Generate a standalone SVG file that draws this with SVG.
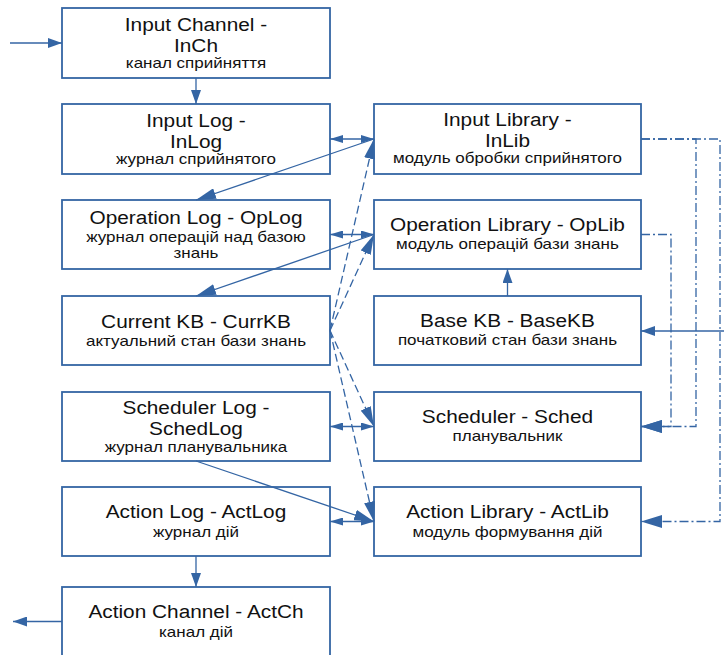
<svg xmlns="http://www.w3.org/2000/svg" width="724" height="655" viewBox="0 0 724 655">
<style>
.box{fill:#fff;stroke:#3465a4;stroke-width:1.8}
.t{font-family:"Liberation Sans",Arial,sans-serif;font-size:18.6px;fill:#111;text-anchor:middle}
.s{font-size:15.2px}
.c{fill:none;stroke:#3465a4;stroke-width:1.3}
.dash{stroke-dasharray:8 4}
.dd{stroke-dasharray:9 3 2 3}
.ah{fill:#3465a4}
</style>
<defs>
<marker id="aS" markerUnits="userSpaceOnUse" markerWidth="13" markerHeight="8" refX="13" refY="4" orient="auto-start-reverse"><path class="ah" d="M0,0 L13,4 L0,8 Z"/></marker>
<marker id="aM" markerUnits="userSpaceOnUse" markerWidth="14" markerHeight="10" refX="14" refY="5" orient="auto"><path class="ah" d="M0,0 L14,5 L0,10 Z"/></marker>
<marker id="aL" markerUnits="userSpaceOnUse" markerWidth="20" markerHeight="11" refX="20" refY="5.5" orient="auto"><path class="ah" d="M0,0 L20,5.5 L0,11 Z"/></marker>
<marker id="aD" markerUnits="userSpaceOnUse" markerWidth="21" markerHeight="13" refX="21" refY="6.5" orient="auto"><path class="ah" d="M0,0 L21,6.5 L0,13 Z"/></marker>
</defs>

<g id="InCh">
<rect class="box" x="62" y="8" width="268" height="70"/>
<g transform="scale(1.12 1)"><text class="t" x="175" y="31">Input Channel -</text><text class="t" x="175" y="52">InCh</text><text class="t s" x="175" y="68">канал сприйняття</text></g>
</g>
<g id="InLog">
<rect class="box" x="62" y="104" width="268" height="70"/>
<g transform="scale(1.12 1)"><text class="t" x="175" y="127">Input Log -</text><text class="t" x="175" y="148">InLog</text><text class="t s" x="175" y="164">журнал сприйнятого</text></g>
</g>
<g id="OpLog">
<rect class="box" x="62" y="200" width="268" height="69"/>
<g transform="scale(1.12 1)"><text class="t" x="175" y="224">Operation Log - OpLog</text><text class="t s" x="175" y="242">журнал операцій над базою</text><text class="t s" x="175" y="258">знань</text></g>
</g>
<g id="CurrKB">
<rect class="box" x="62" y="296" width="268" height="69"/>
<g transform="scale(1.12 1)"><text class="t" x="175" y="328">Current KB - CurrKB</text><text class="t s" x="175" y="346">актуальний стан бази знань</text></g>
</g>
<g id="SchedLog">
<rect class="box" x="62" y="392" width="268" height="69"/>
<g transform="scale(1.12 1)"><text class="t" x="175" y="414">Scheduler Log -</text><text class="t" x="175" y="435">SchedLog</text><text class="t s" x="175" y="452">журнал планувальника</text></g>
</g>
<g id="ActLog">
<rect class="box" x="62" y="487" width="268" height="69"/>
<g transform="scale(1.12 1)"><text class="t" x="175" y="518">Action Log - ActLog</text><text class="t s" x="175" y="537">журнал дій</text></g>
</g>
<g id="ActCh">
<rect class="box" x="62" y="587" width="268" height="69"/>
<g transform="scale(1.12 1)"><text class="t" x="175" y="618">Action Channel - ActCh</text><text class="t s" x="175" y="637">канал дій</text></g>
</g>
<g id="InLib">
<rect class="box" x="374" y="104" width="267" height="70"/>
<g transform="scale(1.12 1)"><text class="t" x="453.1" y="126">Input Library -</text><text class="t" x="453.1" y="147">InLib</text><text class="t s" x="453.1" y="163">модуль обробки сприйнятого</text></g>
</g>
<g id="OpLib">
<rect class="box" x="374" y="200" width="267" height="69"/>
<g transform="scale(1.12 1)"><text class="t" x="453.1" y="231">Operation Library - OpLib</text><text class="t s" x="453.1" y="249">модуль операцій бази знань</text></g>
</g>
<g id="BaseKB">
<rect class="box" x="374" y="296" width="267" height="69"/>
<g transform="scale(1.12 1)"><text class="t" x="453.1" y="327">Base KB - BaseKB</text><text class="t s" x="453.1" y="345">початковий стан бази знань</text></g>
</g>
<g id="Sched">
<rect class="box" x="374" y="392" width="267" height="69"/>
<g transform="scale(1.12 1)"><text class="t" x="453.1" y="423">Scheduler - Sched</text><text class="t s" x="453.1" y="441">планувальник</text></g>
</g>
<g id="ActLib">
<rect class="box" x="374" y="487" width="267" height="69"/>
<g transform="scale(1.12 1)"><text class="t" x="453.1" y="518">Action Library - ActLib</text><text class="t s" x="453.1" y="537">модуль формування дій</text></g>
</g>

<g id="connectors">
<path class="c" d="M10,43 H62" marker-end="url(#aM)"/>
<path class="c" d="M196,78 V104" marker-end="url(#aM)"/>
<path class="c" d="M330,139 H374" marker-start="url(#aS)" marker-end="url(#aS)"/>
<path class="c" d="M374,139 L196,200" marker-end="url(#aL)"/>
<path class="c" d="M330,234.5 H374" marker-start="url(#aS)" marker-end="url(#aS)"/>
<path class="c" d="M374,234.5 L196,296" marker-end="url(#aL)"/>
<path class="c dash" d="M330,330.5 L374,139" marker-end="url(#aL)"/>
<path class="c dash" d="M330,330.5 L374,234.5" marker-end="url(#aL)"/>
<path class="c dash" d="M330,330.5 L374,426.5" marker-end="url(#aL)"/>
<path class="c dash" d="M330,330.5 L374,521.5" marker-end="url(#aL)"/>
<path class="c" d="M330,426.5 H374" marker-start="url(#aS)" marker-end="url(#aS)"/>
<path class="c" d="M196,461 L374,521.5" marker-end="url(#aL)"/>
<path class="c" d="M330,521.5 H374" marker-start="url(#aS)" marker-end="url(#aS)"/>
<path class="c" d="M196,556 V587" marker-end="url(#aM)"/>
<path class="c" d="M62,621.5 H13" marker-end="url(#aM)"/>
<path class="c" d="M507.5,296 V269" marker-end="url(#aM)"/>
<path class="c" d="M724,331 H641" marker-end="url(#aM)"/>
<path class="c dd" d="M641,139 H696 V426.5 H641" marker-end="url(#aD)"/>
<path class="c dd" d="M641,139 H720 V521.5 H641" marker-end="url(#aD)"/>
<path class="c dd" d="M641,234.5 H671 V426.5 H641" marker-end="url(#aD)"/>
</g>
</svg>
